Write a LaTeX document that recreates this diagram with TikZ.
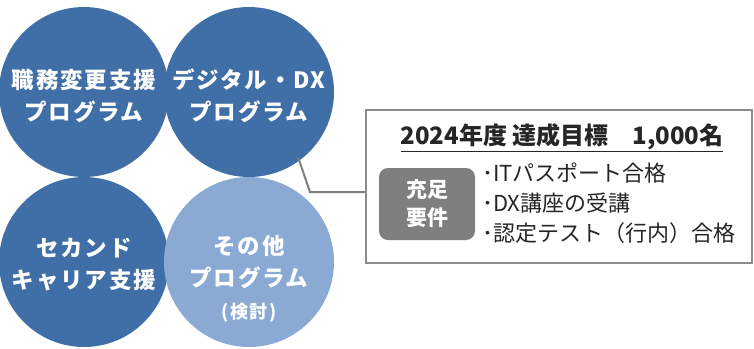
\documentclass[tikz,border=0pt]{standalone}
\usepackage{fontspec}
\setmainfont{Noto Sans CJK JP}
\newfontfamily\circfont{Noto Sans CJK JP}[LetterSpace=8]
\usepackage{tikz}
\usetikzlibrary{positioning}
\definecolor{darkblue}{RGB}{64,111,167}
\definecolor{lightblue}{RGB}{139,170,211}
\definecolor{badgegray}{RGB}{127,127,127}
\definecolor{framegray}{RGB}{140,140,140}
\definecolor{inkgray}{RGB}{38,38,38}
\tikzstyle{circ} = [circle, fill=darkblue, minimum size=170pt, inner sep=0pt]
\tikzstyle{circtext} = [text=white, align=center, font=\circfont\bfseries\fontsize{22.5}{32}\selectfont]
\tikzstyle{goalbox} = [rectangle, draw=framegray, line width=2pt, fill=white, minimum width=386pt, minimum height=153pt]
\tikzstyle{badge} = [rectangle, fill=badgegray, rounded corners=9pt, minimum width=96pt, minimum height=72pt, text=white, align=center, font=\bfseries\fontsize{21}{28}\selectfont]
\tikzstyle{line} = [draw=badgegray, line width=2pt]
\begin{document}
\begin{tikzpicture}[x=1pt, y=-1pt]
  \useasboundingbox (0,0) rectangle (754,348);
    % Place nodes
    \node [circ] (job) at (84,92) {};
    \node [circ] (dx) at (249,92) {};
    \node [circ] (second) at (84,262) {};
    \node [circ, fill=lightblue] (other) at (249,262) {};
    \node [circtext] (jobtext) at (84,96) {職務変更支援\\プログラム};
    \node [circtext] (dxtext) at (249,96) {デジタル・DX\\プログラム};
    \node [circtext] (secondtext) at (84,265) {セカンド\\キャリア支援};
    \node [circtext] (othertext) at (249,279) {その他\\プログラム\\{\fontsize{18}{28}\selectfont (検討)}};
    \node [goalbox] (goal) at (559,186.5) {};
    \node [text=inkgray, font=\bfseries\fontsize{24}{26}\selectfont] (title) at (562,138) {\underline{2024年度 達成目標　1,000名}};
    \node [badge] (req) at (427,204) {充足\\要件};
    \node [anchor=west, align=left, text=inkgray, inner sep=0pt, font=\fontsize{22}{30}\selectfont] (list) at (482,203) {･ITパスポート合格\\･DX講座の受講\\･認定テスト（行内）合格};
    % edges
    \coordinate (tip) at (298,157);
    \coordinate (bend) at (310,192);
    \path [line] (tip) -- (bend) -- (bend -| goal.west);
\end{tikzpicture}
\end{document}
